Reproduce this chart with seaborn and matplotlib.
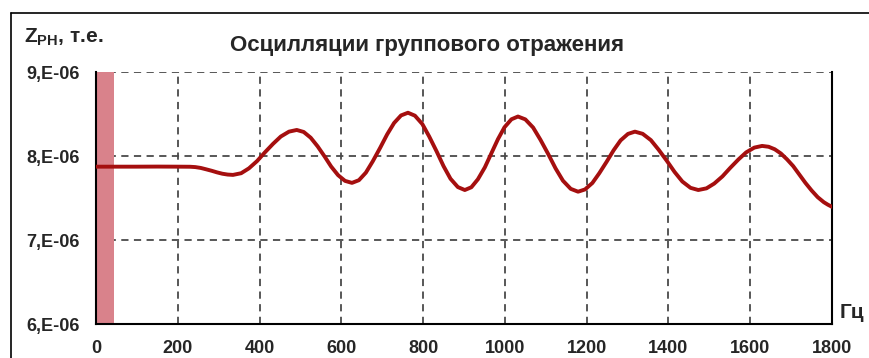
import numpy as np
import pandas as pd
import matplotlib
matplotlib.use("Agg")
import matplotlib.pyplot as plt
from matplotlib.lines import Line2D
import seaborn as sns

# ---- data ----
freq_hz = [0, 50, 100, 150, 200,
           230, 243, 256, 269, 283, 296, 309, 322,
           335, 355, 374, 394, 413, 433, 452, 472,
           491, 508, 525, 542, 559, 575, 592, 609,
           626, 643, 660, 677, 695, 712, 729, 746,
           763, 780, 798, 815, 833, 850, 867, 885,
           902, 918, 934, 951, 967, 983, 999, 1016,
           1032, 1050, 1069, 1087, 1106, 1124, 1142, 1161,
           1179, 1196, 1214, 1231, 1249, 1266, 1283, 1301,
           1318, 1337, 1357, 1376, 1396, 1415, 1434, 1454,
           1473, 1493, 1512, 1532, 1551, 1571, 1590, 1610,
           1629, 1645, 1660, 1675, 1690, 1705, 1720, 1735,
           1750, 1765, 1780, 1790, 1800]
z_e6 = [7.873, 7.873, 7.873, 7.874, 7.873,
        7.872, 7.868, 7.858, 7.842, 7.824, 7.805, 7.789, 7.779,
        7.775, 7.795, 7.853, 7.940, 8.043, 8.145, 8.232, 8.290,
        8.310, 8.286, 8.218, 8.115, 7.995, 7.875, 7.772, 7.704,
        7.680, 7.712, 7.802, 7.938, 8.098, 8.257, 8.393, 8.483,
        8.515, 8.480, 8.381, 8.231, 8.055, 7.879, 7.729, 7.630,
        7.595, 7.628, 7.723, 7.865, 8.033, 8.200, 8.342, 8.437,
        8.470, 8.436, 8.339, 8.193, 8.023, 7.852, 7.706, 7.609,
        7.575, 7.602, 7.679, 7.796, 7.933, 8.069, 8.186, 8.263,
        8.290, 8.264, 8.189, 8.075, 7.943, 7.810, 7.696, 7.621,
        7.595, 7.615, 7.672, 7.757, 7.858, 7.958, 8.043, 8.100,
        8.120, 8.110, 8.080, 8.030, 7.960, 7.880, 7.780, 7.680,
        7.590, 7.510, 7.450, 7.420, 7.395]
band_hz = [0, 44]
x_ticks = [0, 200, 400, 600, 800, 1000, 1200, 1400, 1600, 1800]
y_ticks = [6e-6, 7e-6, 8e-6, 9e-6]
y_tick_labels = ["6,E-06", "7,E-06", "8,E-06", "9,E-06"]
title = "Осцилляции группового отражения"
y_label = r"$\mathbf{Z_{PH}}$, т.е."
x_unit = "Гц"

df = pd.DataFrame({"f": freq_hz, "z": np.array(z_e6) * 1e-6})

sns.set_theme(style="white")
plt.rcParams["font.family"] = ["Liberation Sans", "DejaVu Sans"]
plt.rcParams["font.weight"] = "bold"
plt.rcParams["mathtext.fontset"] = "custom"
plt.rcParams["mathtext.rm"] = "Liberation Sans:bold"
plt.rcParams["mathtext.bf"] = "Liberation Sans:bold"
plt.rcParams["mathtext.it"] = "Liberation Sans:bold"

W, H = 870, 358
fig = plt.figure(figsize=(W / 100, H / 100), dpi=100)
fig.patch.set_facecolor("white")
ax = fig.add_axes([96 / W, 1 - 324 / H, (832 - 96) / W, (324 - 72) / H])

ax.axvspan(band_hz[0], band_hz[1], color="#d9828b", zorder=1, lw=0)
sns.lineplot(data=df, x="f", y="z", ax=ax, color="#a50f0f", lw=2.8, zorder=5)

ax.set_xlim(0, 1800)
ax.set_ylim(6e-6, 9e-6)
ax.set_xticks(x_ticks)
ax.set_xticklabels([str(t) for t in x_ticks], fontsize=13, fontweight="bold")
ax.set_yticks(y_ticks)
ax.set_yticklabels(y_tick_labels, fontsize=13, fontweight="bold")
ax.set_xlabel("")
ax.set_ylabel("")
ax.tick_params(axis="x", length=3, pad=10, direction="inout", color="black")
ax.tick_params(axis="y", length=4, pad=9.5, direction="inout", color="black")

ax.grid(True, color="#4a4a4a", linestyle=(0, (4, 3)), linewidth=1.3, zorder=2)
ax.set_axisbelow(True)
for s in ["left", "bottom", "right"]:
    ax.spines[s].set_visible(True)
    ax.spines[s].set_color("black")
    ax.spines[s].set_linewidth(1.5)
ax.spines["top"].set_visible(False)

fig.text(427 / W, 1 - 46 / H, title, ha="center", va="center",
         fontsize=16, fontweight="bold")
fig.text(24 / W, 1 - 43 / H, y_label, ha="left", va="baseline",
         fontsize=15, fontweight="bold")
fig.text(840 / W, 1 - 313 / H, x_unit, ha="left", va="center",
         fontsize=15, fontweight="bold")

# outer frame (left and top edges visible in reference)
fig.add_artist(Line2D([11 / W, 11 / W], [0, 1 - 13 / H], color="black", lw=1.2,
                      transform=fig.transFigure))
fig.add_artist(Line2D([11 / W, 1], [1 - 13 / H, 1 - 13 / H], color="black", lw=1.2,
                      transform=fig.transFigure))

fig.savefig("out.png", dpi=100)
